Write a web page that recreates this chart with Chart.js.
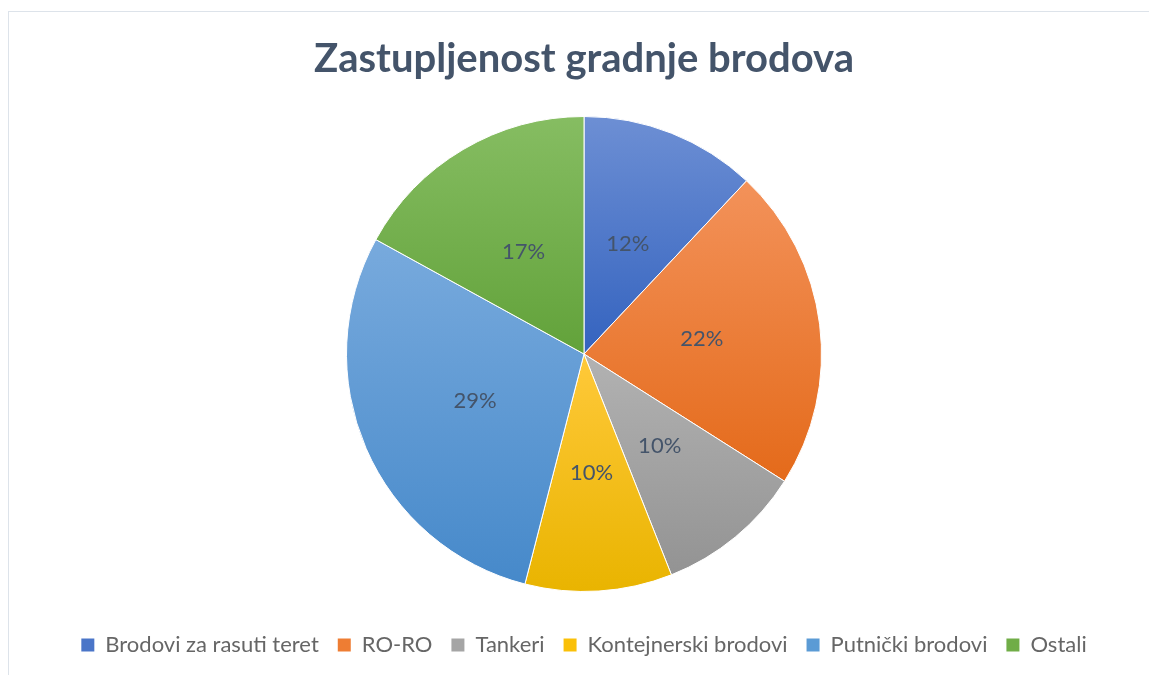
<!DOCTYPE html>
<html>
<head>
<meta charset="utf-8">
<script src="https://cdn.jsdelivr.net/npm/chart.js@4/dist/chart.umd.min.js"></script>
<style>
  html,body{margin:0;padding:0;background:#fff;overflow:hidden;}
  #frame{position:absolute;left:8px;top:11px;width:1200px;height:700px;border:1px solid #dde3ea;box-sizing:border-box;}
  #pieChart{position:absolute;left:9px;top:12px;}
</style>
</head>
<body>
<div id="frame"></div>
<canvas id="pieChart" width="1150" height="663"></canvas>
<script>
/* ============================================================ PODACI */
const categories=['Brodovi za rasuti teret','RO-RO','Tankeri','Kontejnerski brodovi','Putnički brodovi','Ostali'];
const shares=[12,22,10,10,29,17];
// gradijent svakog isječka: svjetlije gore, tamnije dolje
const topColors=['#6d8fd4','#f3925a','#b2b2b2','#ffc93a','#78aadd','#86bd62'];
const bottomColors=['#3463bf','#e46a1a','#939393','#e9b400','#4689ca','#62a23a'];
const midColors=['#4a75c8','#ee7d33','#a5a5a5','#fac008','#5b9bd5','#70ad47'];

const txt='#44546a';

// vertikalni raspon isječka i, izračunat iz chartArea (isto kao Chart.js za pun krug)
function sliceSpan(area,i){
  const cx=(area.left+area.right)/2, cy=(area.top+area.bottom)/2;
  const r=Math.min(area.right-area.left,area.bottom-area.top)/2;
  const total=shares.reduce((a,b)=>a+b,0);
  let cum=0; for(let k=0;k<i;k++) cum+=shares[k];
  const a0=-Math.PI/2+2*Math.PI*cum/total, a1=a0+2*Math.PI*shares[i]/total;
  const ys=[cy,cy+r*Math.sin(a0),cy+r*Math.sin(a1)];
  [Math.PI/2,-Math.PI/2,3*Math.PI/2].forEach(a=>{if(a>=a0&&a<=a1) ys.push(cy+r*Math.sin(a));});
  return {y0:Math.min(...ys),y1:Math.max(...ys),cx};
}
function sliceFill(c){
  const area=c.chart.chartArea, i=c.dataIndex;
  if(!area||i===undefined) return midColors[i||0];
  const s=sliceSpan(area,i);
  const g=c.chart.ctx.createLinearGradient(s.cx,s.y0,s.cx,s.y1);
  g.addColorStop(0,topColors[i]); g.addColorStop(1,bottomColors[i]);
  return g;
}

// postoci unutar isječaka
const pctLabels={
  id:'pctLabels',
  afterDatasetsDraw(chart){
    const ctx=chart.ctx, meta=chart.getDatasetMeta(0);
    ctx.save();
    ctx.font='22px Lato';
    ctx.fillStyle=txt; ctx.textAlign='center'; ctx.textBaseline='middle';
    meta.data.forEach((arc,i)=>{
      const p=arc.tooltipPosition();
      ctx.fillText(shares[i]+'%',p.x,p.y);
    });
    ctx.restore();
  }
};

new Chart(document.getElementById('pieChart').getContext('2d'),{
  type:'pie',
  data:{labels:categories,datasets:[{data:shares,backgroundColor:sliceFill,borderColor:'#ffffff',borderWidth:1}]},
  options:{responsive:false,animation:false,
    layout:{padding:{top:4,bottom:9,left:0,right:0}},
    plugins:{
      title:{display:true,text:'Zastupljenost gradnje brodova',color:txt,font:{family:'Lato',size:40,weight:'bold'},padding:{top:19,bottom:33}},
      legend:{position:'bottom',
        title:{display:true,text:'',font:{size:10},padding:{top:6,bottom:5}},
        labels:{color:txt,font:{family:'Lato',size:22},boxWidth:13,boxHeight:13,padding:19,
          generateLabels:ch=>categories.map((t,i)=>({text:t,fillStyle:midColors[i],strokeStyle:midColors[i],lineWidth:0,hidden:false,index:i}))}},
      tooltip:{enabled:false}
    }
  },
  plugins:[pctLabels]
});
</script>
</body>
</html>
